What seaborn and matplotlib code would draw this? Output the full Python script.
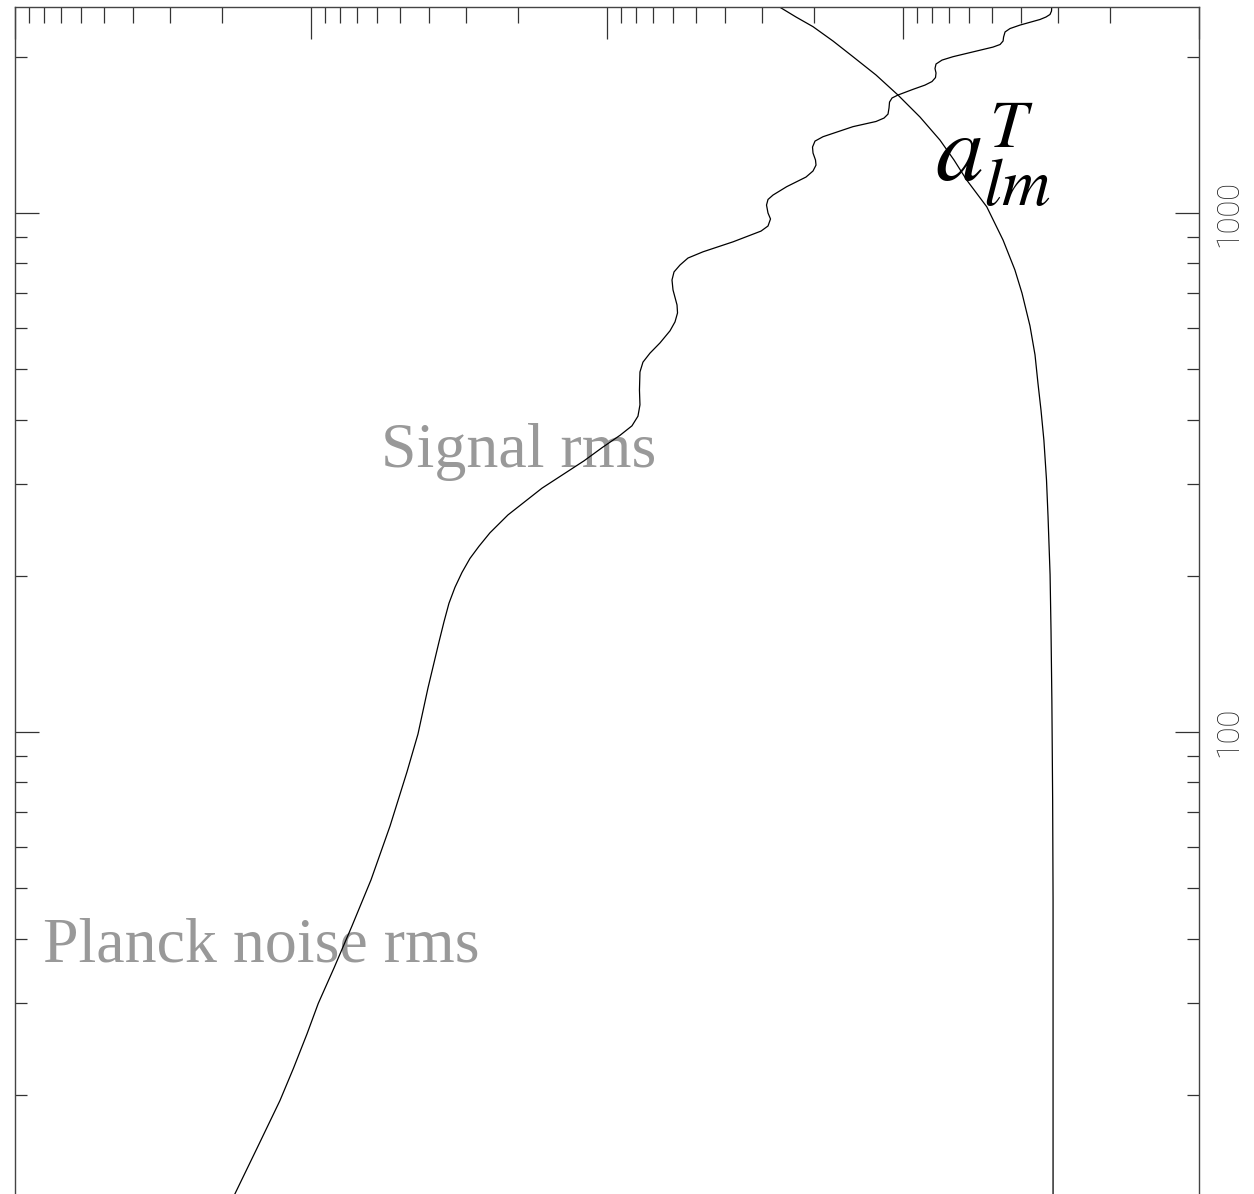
import numpy as np
import pandas as pd
import matplotlib
matplotlib.use("Agg")
import matplotlib.pyplot as plt
import seaborn as sns
from matplotlib.ticker import LogLocator, FixedLocator, FixedFormatter, NullFormatter

# ---- data ----
ell_signal = [2491, 2450, 2413, 2386, 2360, 2302, 2267, 2233, 2183, 2145,
              2112, 2088, 2001, 1971, 1937, 1899, 1861, 1824, 1792, 1764,
              1731, 1688, 1666, 1636, 1594, 1551, 1524, 1501, 1467, 1403,
              1376, 1340, 1305, 1265, 1237, 1205, 1173, 1124, 1083, 1062,
              1036, 1000, 974, 944, 923, 880, 842, 819, 794, 770,
              743, 711, 665, 642, 617, 593, 562, 537, 516, 494,
              456, 427, 406, 389, 373, 353, 333, 295, 262, 242,
              228, 216, 203, 190, 177, 163, 149, 121.6, 99.1, 83.8,
              65.9, 51.9, 42.3, 35.1, 30.0, 26.2, 22.5, 19.5, 15.8, 12.9, 10]
rms_signal = [0.003145, 0.003150, 0.003187, 0.003288, 0.003445, 0.004026, 0.004350, 0.004521, 0.004573, 0.004591,
              0.004700, 0.004966, 0.006776, 0.007382, 0.007735, 0.007796, 0.007735, 0.007766, 0.007980, 0.008428,
              0.009253, 0.010397, 0.010890, 0.011105, 0.011149, 0.011237, 0.011591, 0.012337, 0.014757, 0.018630,
              0.019827, 0.020216, 0.020137, 0.019751, 0.019674, 0.020137, 0.021268, 0.024714, 0.027490, 0.028580,
              0.028914, 0.028580, 0.028029, 0.028580, 0.030176, 0.037518, 0.047369, 0.053262, 0.056669, 0.059376,
              0.060313, 0.059843, 0.057999, 0.057772, 0.058917, 0.061255, 0.066222, 0.071590, 0.075604, 0.077383,
              0.077685, 0.077383, 0.078600, 0.082353, 0.090365, 0.103968, 0.11963, 0.16583, 0.21606, 0.24858,
              0.27067, 0.29040, 0.30895, 0.32634, 0.34194, 0.35550, 0.36963, 0.40252, 0.43512, 0.47393,
              0.54070, 0.62693, 0.72695, 0.83614, 0.9450, 1.0316, 1.1460, 1.2728, 1.5200, 1.8055, 2.2284]

ell_noise = [2690, 2491, 2386, 2286, 2145, 2001, 1845, 1688, 1531, 1382,
             1265, 1158, 1028, 887, 777, 701, 606, 533, 470, 417,
             365, 306, 260, 201, 157, 115, 74, 47.5, 10]
rms_noise = [0.03289, 0.02603, 0.022982, 0.02014, 0.017237, 0.01476, 0.012337, 0.01040, 0.008762, 0.0075,
             0.006724, 0.006095, 0.005212, 0.004592, 0.004188, 0.003963, 0.003724, 0.003581, 0.0035, 0.003418,
             0.003342, 0.003275, 0.003236, 0.003185, 0.003162, 0.003141, 0.003122, 0.003112, 0.003112]

y_tick_values = [100, 1000]
y_tick_labels = ["100", "1000"]

sns.set_theme(style="white")
plt.rcParams["font.family"] = ["DejaVu Sans"]
plt.rcParams["mathtext.fontset"] = "stix"

fig = plt.figure(figsize=(12.54, 11.94), dpi=100)
ax = fig.add_axes([15 / 1254, (1194 - 1251) / 1194, 1184 / 1254, (1251 - 6.5) / 1194])
ax.set_facecolor("white")

df_sig = pd.DataFrame({"rms": rms_signal, "ell": ell_signal})
df_noise = pd.DataFrame({"rms": rms_noise, "ell": ell_noise})
sns.lineplot(data=df_sig, x="rms", y="ell", sort=False, estimator=None,
             color="black", lw=0.9, ax=ax, zorder=2)
sns.lineplot(data=df_noise, x="rms", y="ell", sort=False, estimator=None,
             color="black", lw=0.9, ax=ax, zorder=2)
for ln in ax.get_lines():
    ln.set_solid_joinstyle("round")

ax.set_xscale("log")
ax.set_yscale("log")
ax.set_xlim(10, 0.001)
ax.set_ylim(10, 2500)
ax.set_xlabel("")
ax.set_ylabel("")
ax.grid(False)

# x ticks on top only, inward
ax.xaxis.set_major_locator(LogLocator(base=10))
ax.xaxis.set_minor_locator(LogLocator(base=10, subs=np.arange(2, 10)))
ax.xaxis.set_minor_formatter(NullFormatter())
ax.tick_params(axis="x", which="both", direction="in", top=True, bottom=False,
               labeltop=False, labelbottom=False, color="#333333", width=0.9)
ax.tick_params(axis="x", which="major", length=23)
ax.tick_params(axis="x", which="minor", length=11.5)

# y ticks both sides, labels on right
ax.yaxis.set_major_locator(FixedLocator(y_tick_values))
ax.yaxis.set_major_formatter(FixedFormatter(y_tick_labels))
ax.yaxis.set_minor_locator(LogLocator(base=10, subs=np.arange(2, 10)))
ax.yaxis.set_minor_formatter(NullFormatter())
ax.tick_params(axis="y", which="both", direction="in", left=True, right=True,
               labelleft=False, labelright=True, color="#333333", width=0.9)
ax.tick_params(axis="y", which="major", length=17, pad=11, labelsize=22,
               labelcolor="#222222", labelrotation=90)
ax.tick_params(axis="y", which="minor", length=8.6)
for lab in ax.get_yticklabels():
    lab.set_family(["Roboto", "DejaVu Sans"])
    lab.set_fontweight("light")
    lab.set_va("center")

for s in ax.spines.values():
    s.set_color("#444444")
    s.set_linewidth(1.0)

serif = ["Liberation Serif", "DejaVu Serif"]
ax.text(0.580, 324, "Signal rms", fontsize=46, color="#999999", family=serif,
        ha="left", va="baseline", zorder=1)
ax.text(8.02, 36.1, "Planck noise rms", fontsize=46, color="#999999", family=serif,
        ha="left", va="baseline", zorder=1)
ax.text(0.0078, 1147, r"$a_{lm}^{T}$", fontsize=69, color="black",
        ha="left", va="baseline", zorder=3)

fig.savefig("out.png", dpi=100)
